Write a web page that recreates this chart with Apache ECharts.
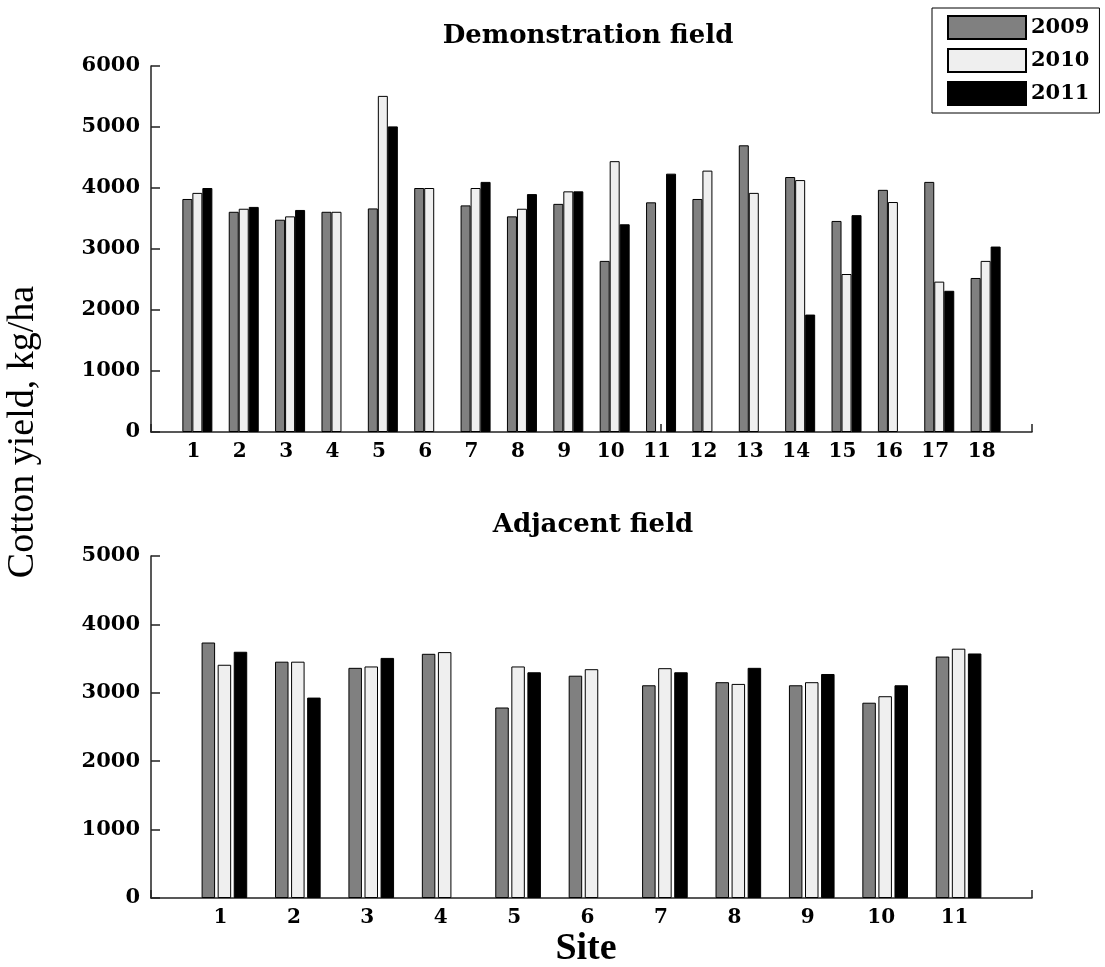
<!DOCTYPE html>
<html>
<head>
<meta charset="utf-8">
<script src="https://cdn.jsdelivr.net/npm/echarts@6/dist/echarts.min.js"></script>
<style>
html,body{margin:0;padding:0;background:#fff;}
#c{width:1105px;height:967px;}
</style>
</head>
<body>
<div id="c"></div>
<script>
// ---- Data ----
const years = ['2009', '2010', '2011'];
const demoSites = ['1','2','3','4','5','6','7','8','9','10','11','12','13','14','15','16','17','18'];
const demo2009 = [3820, 3610, 3480, 3610, 3665, 4000, 3715, 3535, 3740, 2805, 3765, 3820, 4700, 4180, 3460, 3970, 4100, 2525];
const demo2010 = [3920, 3660, 3535, 3610, 5510, 4000, 4000, 3660, 3945, 4440, null, 4285, 3920, 4130, 2590, 3770, 2465, 2805];
const demo2011 = [4000, 3690, 3640, null, 5010, null, 4100, 3900, 3945, 3405, 4235, null, null, 1925, 3555, null, 2315, 3040];
const adjSites = ['1','2','3','4','5','6','7','8','9','10','11'];
const adj2009 = [3735, 3455, 3365, 3570, 2785, 3250, 3110, 3155, 3110, 2855, 3530];
const adj2010 = [3410, 3455, 3385, 3595, 3385, 3345, 3360, 3130, 3155, 2950, 3645];
const adj2011 = [3600, 2930, 3510, null, 3300, null, 3300, 3365, 3275, 3110, 3575];
const demoTicks = [0, 1000, 2000, 3000, 4000, 5000, 6000];
const adjTicks = [0, 1000, 2000, 3000, 4000, 5000];

// ---- Build ----
const pad = a => [null].concat(a, [null]);
const colors = ['#808080', '#efefef', '#000000'];
const FONT = 'DejaVu Serif';
const axisColor = '#222';

function xAxisFor(cats, gridIndex) {
  return {
    type: 'category', gridIndex, data: pad(cats).map(v => v === null ? '' : v),
    boundaryGap: false,
    axisLine: {lineStyle: {color: axisColor, width: 1.5}},
    axisTick: {inside: true, length: 8, alignWithLabel: true, interval: 0, lineStyle: {color: axisColor, width: 1.5}},
    axisLabel: {interval: 0, margin: 10, color: '#000', fontFamily: FONT, fontWeight: 'bold', fontSize: 20, padding: [0, 8, 0, 0]},
    splitLine: {show: false}
  };
}
function yAxisFor(ticks, gridIndex) {
  return {
    type: 'value', gridIndex, min: ticks[0], max: ticks[ticks.length - 1], interval: ticks[1] - ticks[0],
    axisLine: {show: true, lineStyle: {color: axisColor, width: 1.5}},
    axisTick: {show: true, inside: true, length: 9, lineStyle: {color: axisColor, width: 1.5}},
    axisLabel: {margin: 11, color: '#000', fontFamily: FONT, fontWeight: 'bold', fontSize: 21, formatter: v => String(v)},
    splitLine: {show: false}
  };
}
function barSeries(name, data, idx, gridIdx, width, gap) {
  return {
    type: 'bar', name, data: pad(data), xAxisIndex: gridIdx, yAxisIndex: gridIdx,
    barWidth: width, barGap: gap,
    itemStyle: {color: colors[idx], borderColor: '#000', borderWidth: 1},
    emphasis: {disabled: true}
  };
}

const chart = echarts.init(document.getElementById('c'), null, {renderer: 'canvas'});
chart.setOption({
  animation: false,
  backgroundColor: '#fff',
  title: [
    {text: 'Demonstration field', left: 588, top: 23, textAlign: 'center', padding: 0,
     textStyle: {fontFamily: FONT, fontWeight: 'bold', fontSize: 26, color: '#000'}},
    {text: 'Adjacent field', left: 593, top: 512, textAlign: 'center', padding: 0,
     textStyle: {fontFamily: FONT, fontWeight: 'bold', fontSize: 26, color: '#000'}}
  ],
  legend: {
    data: years, orient: 'vertical', left: 932, top: 8,
    backgroundColor: '#fff', borderColor: '#000', borderWidth: 1,
    padding: [7, 10, 7, 15], itemWidth: 78, itemHeight: 23, itemGap: 8,
    icon: 'rect',
    textStyle: {fontFamily: FONT, fontWeight: 'bold', fontSize: 21, color: '#000'}
  },
  grid: [
    {left: 151, right: 73, top: 66, height: 366},
    {left: 151, right: 73, top: 556, height: 342}
  ],
  xAxis: [xAxisFor(demoSites, 0), xAxisFor(adjSites, 1)],
  yAxis: [yAxisFor(demoTicks, 0), yAxisFor(adjTicks, 1)],
  graphic: [
    {type: 'text', rotation: Math.PI / 2, x: 23, y: 432,
     style: {text: 'Cotton yield, kg/ha', fontFamily: 'Liberation Serif', fontSize: 38, fill: '#000', textAlign: 'center', textVerticalAlign: 'middle'}},
    {type: 'text', x: 586, y: 949,
     style: {text: 'Site', fontFamily: 'Liberation Serif', fontWeight: 'bold', fontSize: 38, fill: '#000', textAlign: 'center', textVerticalAlign: 'middle'}}
  ],
  series: [
    barSeries('2009', demo2009, 0, 0, 10, '0%'),
    barSeries('2010', demo2010, 1, 0, 10, '0%'),
    barSeries('2011', demo2011, 2, 0, 10, '0%'),
    barSeries('2009', adj2009, 0, 1, 13.5, '19%'),
    barSeries('2010', adj2010, 1, 1, 13.5, '19%'),
    barSeries('2011', adj2011, 2, 1, 13.5, '19%')
  ]
});
</script>
</body>
</html>
